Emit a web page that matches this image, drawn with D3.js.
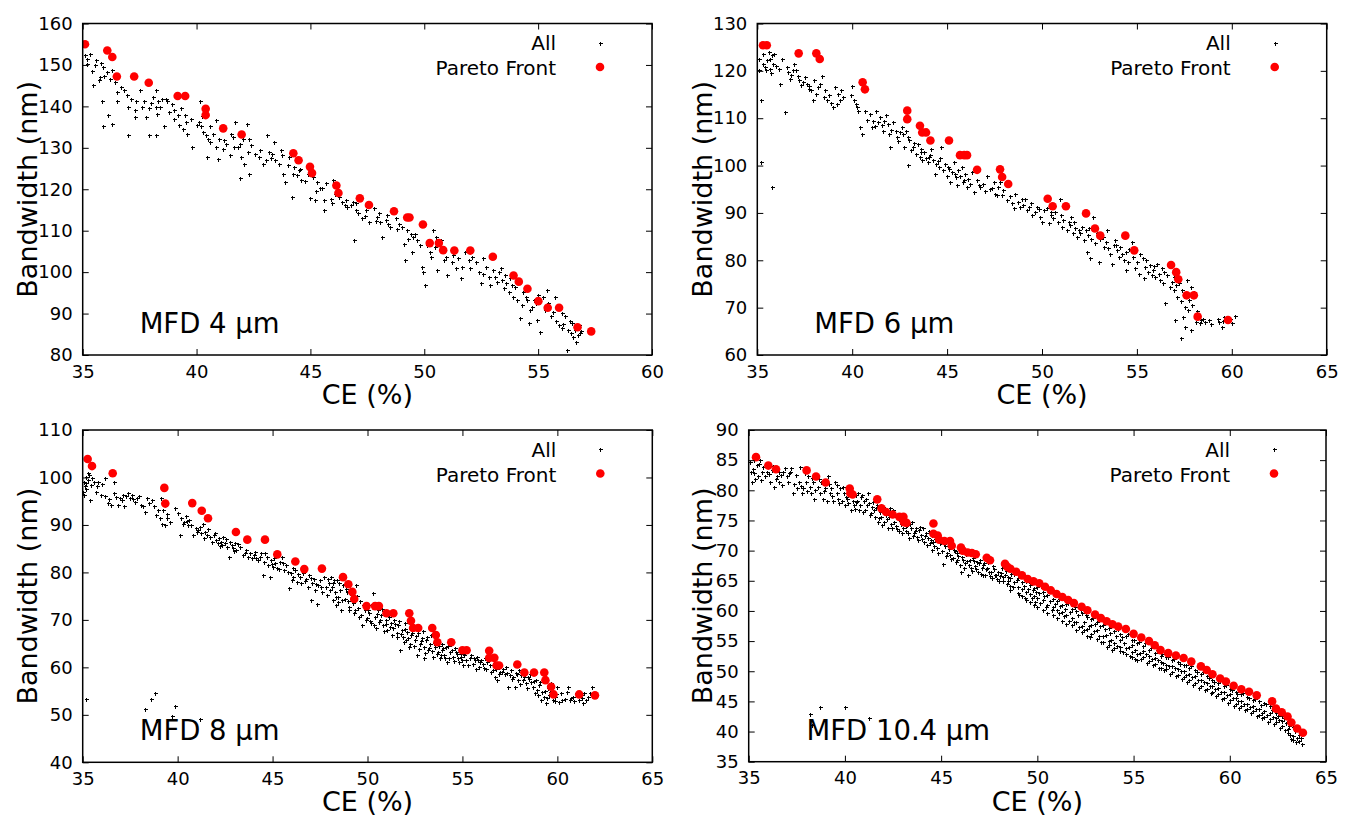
<!DOCTYPE html>
<html>
<head>
<meta charset="utf-8">
<script src="https://cdn.jsdelivr.net/npm/d3@7"></script>
<style>
  body { margin: 0; background: #fff; }
  svg { display: block; font-family: "DejaVu Sans", sans-serif; }
</style>
</head>
<body>
<svg id="chart" width="1345" height="816"></svg>
<script>
// ---- data: [CE (%), Bandwidth (nm)] ----
const all4 = [
  [35.1,152.3],[35.2,151.5],[35.2,150.3],[35.6,151.1],[35.55,149.9],[35.45,145.1],[35.7,146.3],[35.76,147.1],[35.85,141.4],[35.9,135.2],
  [36.1,137.8],[36.3,135.7],[35.9,149.5],[36.05,148.3],[35.95,147.3],[36.3,148.7],[36.4,145.9],[36.5,143.5],[36.5,141.4],[36.8,143.9],
  [36.95,142.7],[37.0,139.9],[37.0,133.1],[37.3,139.1],[37.3,137.4],[37.35,141.4],[37.5,143.9],[37.6,139.9],[37.8,137.4],[37.9,133.1],
  [37.9,139.5],[38.1,142.2],[38.2,139.9],[38.2,143.9],[38.25,138.2],[38.2,133.2],[38.3,141.4],[38.4,139.9],[38.5,141.8],[38.55,135.2],
  [38.65,141.8],[38.7,141.4],[38.9,140.6],[39.0,139.1],[39.0,137.0],[39.2,137.8],[39.25,135.4],[39.4,134.6],[39.5,137.8],[39.55,136.2],
  [39.6,133.4],[39.8,130.2],[40.0,135.4],[40.1,136.2],[40.13,141.4],[40.2,135.2],[40.3,133.9],[40.4,133.1],[40.45,127.8],[40.5,132.2],
  [40.6,135.2],[40.7,133.4],[40.85,136.6],[40.85,130.2],[40.95,127.4],[41.0,132.2],[41.1,134.6],[41.15,129.8],[41.3,131.0],[41.45,128.2],
  [41.6,132.6],[41.65,130.2],[41.7,136.2],[41.8,130.2],[41.9,122.6],[41.95,127.8],[42.05,132.2],[42.1,126.2],[42.2,135.8],[42.25,129.0],
  [42.3,123.8],[42.3,132.2],[42.55,128.6],[42.75,127.8],[42.9,126.2],[43.05,127.0],[43.1,133.0],[43.2,129.0],[43.3,128.6],[43.4,131.4],
  [43.45,127.0],[43.6,126.2],[43.75,128.2],[43.8,123.8],[43.9,121.8],[44.05,127.8],[44.2,118.1],[44.25,123.8],[44.3,125.4],[44.4,123.4],
  [44.55,125.0],[44.6,122.2],[44.9,123.8],[45.1,123.0],[45.3,121.8],[45.4,120.2],[45.5,120.2],[45.6,117.3],[45.97,122.2],[45.9,117.7],
  [45.0,117.9],[45.2,117.4],[45.6,114.9],[45.95,116.6],
  [46.26,118.2],[46.4,117.0],[46.55,117.4],[46.6,115.8],[46.77,116.2],[46.85,117.0],[46.9,107.7],[46.99,115.0],[47.1,114.2],[47.28,113.0],
  [47.43,115.0],[47.57,112.2],[47.8,115.4],[47.94,113.4],[48.0,114.2],[48.05,112.2],[48.15,108.5],[48.3,112.6],[48.35,113.8],[48.5,110.9],
  [48.74,113.0],[48.9,111.7],[49.0,110.9],[49.1,106.9],[49.15,102.9],[49.25,110.1],[49.4,109.3],[49.45,104.9],[49.5,108.5],[49.6,109.3],
  [49.7,107.7],[49.9,101.2],[49.95,100.1],[50.05,96.9],[50.1,106.5],[50.25,104.9],[50.4,110.1],[50.45,106.1],[50.5,108.5],[50.55,100.5],
  [50.7,105.7],[50.75,107.7],[50.95,103.7],[51.0,99.3],[51.2,102.5],[51.25,104.1],[51.4,100.9],[51.6,98.5],[51.66,101.3],[51.8,104.9],
  [51.95,102.9],[52.1,103.7],[52.25,102.5],[52.4,100.1],[52.5,97.3],[52.6,103.3],[52.7,101.3],[52.85,98.9],[52.9,96.9],[53.0,100.5],
  [53.12,98.9],[53.27,100.1],[53.35,100.9],[53.4,98.1],[53.5,96.1],[53.55,99.3],[53.6,97.3],[53.7,95.3],[53.75,98.5],[53.9,94.1],
  [54.0,96.5],[54.05,93.3],[54.2,88.9],[54.3,92.1],[54.45,94.1],[54.5,93.3],[54.58,87.7],[54.65,90.9],[54.8,93.3],[54.9,92.5],
  [54.95,88.5],[55.0,94.5],[55.1,85.6],[55.2,94.1],[55.4,95.7],[55.45,92.5],[55.55,89.3],[55.75,94.1],[55.8,88.1],[55.9,87.3],
  [56.04,90.1],[56.04,86.5],[56.2,89.3],[56.25,81.2],[56.3,86.1],[56.4,88.1],[56.45,85.3],[56.5,87.7],[56.6,86.1],[56.65,83.2],
  [56.75,84.8],[56.8,87.3],[56.85,85.3],
  [35.3,152.6],[35.4,148.6],[35.8,150.5],[36.2,146.6],[36.7,144.6],[37.1,141.9],[37.7,141.4],[38.0,140.9],[38.8,138.6],[39.3,139.6],
  [39.75,136.9],[40.25,137.6],[40.6,131.4],[41.2,131.9],[41.5,133.3],[41.9,130.9],[42.4,130.6],[42.8,129.4],[43.25,127.6],[43.7,129.5],
  [44.0,125.9],[44.5,124.6],[44.75,121.9],[45.25,119.6],[45.7,121.4],[46.1,118.9],[46.5,116.3],[47.0,116.8],[47.4,113.6],[47.9,112.3],
  [48.4,111.6],[48.8,110.4],[49.3,107.9],[49.8,106.6],[50.3,103.6],[50.85,102.9],[51.5,103.4],[52.0,100.9],[52.6,99.6],[53.2,97.6],
  [53.85,96.9],[54.35,95.2],[54.75,91.6],[55.3,90.9],[55.65,90.4],[56.1,87.4],[56.55,84.3],[56.9,85.9]
];
const pareto4 = [
  [35.1,155.0],[36.08,153.5],[36.3,151.9],[36.5,147.2],[37.26,147.2],[37.9,145.7],[39.17,142.5],[39.5,142.5],[40.4,139.4],[40.4,137.9],
  [41.17,134.7],[41.98,133.2],[44.25,128.7],[44.48,127.0],[44.98,125.4],[45.07,123.9],[46.14,120.9],[46.23,119.1],[47.17,117.8],[47.57,116.2],
  [48.67,114.7],[49.25,113.2],[49.35,113.2],[49.94,111.5],[50.24,107.0],[50.64,107.0],[50.83,105.3],[51.32,105.2],[52.02,105.2],[53.01,103.7],
  [53.92,99.2],[54.15,97.7],[54.53,96.0],[55.01,93.0],[55.42,91.4],[55.92,91.4],[56.73,86.7],[57.33,85.7]
];

const all6 = [
  [35.1,122.6],[35.2,100.8],[35.2,113.8],[35.1,120.1],[35.3,123.6],[35.4,120.8],[35.45,120.1],[35.6,123.9],[35.67,122.6],[35.85,121.5],
  [35.76,123.3],[35.65,120.4],[35.9,123.6],[35.8,95.4],[36.3,122.6],[36.2,117.3],[36.45,111.4],[36.55,120.8],[36.6,119.8],[36.7,118.3],
  [36.9,120.1],[36.95,121.5],[37.05,120.1],[37.15,119.0],[37.2,118.0],[37.42,117.6],[37.5,118.7],[37.6,117.3],[37.7,116.9],[37.75,116.2],
  [37.85,115.9],[37.95,113.8],[38.0,118.0],[38.1,115.2],[38.2,116.6],[38.4,119.0],[38.5,114.5],[38.55,115.9],[38.65,113.8],[38.8,114.8],
  [39.0,112.3],[39.1,116.6],[39.25,115.2],[39.35,113.8],[39.4,115.9],[39.5,114.5],[39.95,115.0],[40.0,116.9],[40.1,113.8],[40.2,113.1],
  [40.25,112.3],[40.4,108.1],[40.5,106.7],[40.7,111.6],[40.93,110.9],[41.1,109.5],[41.2,108.4],[41.25,111.6],[41.35,109.1],[41.45,110.3],
  [41.6,107.4],[41.7,109.5],[41.8,110.6],[41.9,108.8],[41.95,106.7],[42.0,103.9],[42.15,109.2],[42.3,107.4],[42.35,106.0],[42.5,107.1],
  [42.6,108.2],[42.69,106.7],[42.75,103.9],[42.85,107.4],[42.95,100.1],[43.0,105.3],[43.1,103.2],[43.2,103.9],[43.35,102.5],[43.45,104.6],
  [43.55,101.8],[43.65,103.6],[43.7,101.1],[43.8,102.9],[43.9,101.5],[44.0,100.8],[44.05,101.8],[44.15,103.6],[44.25,101.1],[44.35,98.3],
  [44.44,100.4],[44.55,99.7],[44.6,101.5],[44.7,103.9],[44.8,99.0],[44.9,100.4],[45.0,97.9],[45.05,99.7],[45.15,96.5],[45.25,98.6],
  [45.35,100.8],[45.45,97.6],[45.5,95.8],[45.6,99.0],[45.7,97.9],[45.8,99.7],[45.85,96.5],[45.95,98.3],[46.05,95.5],[46.1,97.2],
  [46.3,98.6],[46.4,94.4],[46.55,96.9],[46.75,95.5],[46.9,96.2],[47.1,97.9],[47.25,95.1],[47.45,96.5],[47.55,94.1],[47.7,95.5],
  [47.8,96.5],[47.96,94.8],
  [47.88,93.7],[48.15,92.7],[48.4,92.0],[48.6,94.1],[48.5,91.0],[48.75,92.3],[48.85,91.3],[49.0,91.6],[49.1,93.0],[49.2,90.6],
  [49.4,92.0],[49.45,89.5],[49.65,90.2],[49.75,91.3],[49.9,89.2],[50.0,88.1],[50.1,90.6],[50.25,91.0],[50.35,87.8],[50.45,89.5],
  [50.6,88.9],[50.7,90.2],[50.85,88.1],[50.95,93.0],[51.05,87.1],[51.1,88.5],[51.3,86.4],[51.4,88.1],[51.5,87.4],[51.55,89.2],
  [51.65,85.7],[51.75,86.8],[51.85,85.0],[51.95,86.4],[52.0,85.7],[52.1,87.1],[52.2,84.3],[52.3,86.4],[52.35,81.8],[52.4,85.4],
  [52.55,80.4],[52.6,84.6],[52.7,89.2],[52.8,83.6],[52.9,85.7],[53.0,79.7],[53.06,84.6],[53.25,82.9],[53.35,83.9],[53.45,86.4],
  [53.5,82.5],[53.6,81.4],[53.7,79.3],[53.8,83.2],[53.85,84.3],[53.95,82.2],[54.05,80.7],[54.1,82.9],[54.2,81.4],[54.3,80.0],
  [54.4,77.9],[54.45,81.8],[54.55,79.7],[54.75,83.9],[54.82,80.7],[54.9,78.3],[55.0,79.7],[55.1,77.2],[55.15,81.4],[55.35,76.2],
  [55.45,78.6],[55.5,80.0],[55.6,77.6],[55.7,79.0],[55.8,76.9],[55.85,77.9],[55.95,76.5],[56.05,79.3],[56.15,77.2],[56.2,75.8],
  [56.3,78.3],[56.4,75.1],[56.5,70.9],[56.57,76.9],[56.65,79.0],[56.75,74.4],[56.85,75.4],[56.95,76.5],[56.95,73.7],[57.0,67.4],
  [57.0,77.6],[57.1,72.3],[57.2,75.1],[57.3,71.3],[57.3,63.5],[57.4,73.7],[57.45,68.1],[57.55,66.0],[57.55,70.2],[57.65,75.8],
  [57.75,71.6],[57.85,74.4],[57.85,65.3],[57.9,70.6],[58.0,73.3],[58.1,67.0],[58.2,68.1],[58.33,66.7],[58.4,67.4],[58.5,67.7],
  [58.6,67.0],[58.8,67.4],[59.25,67.7],[59.3,67.0],[59.5,66.0],[59.6,68.1],[59.9,67.7],[60.0,66.7],[60.15,68.2],
  [35.3,121.4],[35.5,122.2],[35.7,119.6],[36.0,121.0],[36.15,120.3],[36.8,119.2],[37.3,117.0],[38.3,117.3],[38.9,113.2],[39.2,112.9],
  [40.3,111.6],[40.8,109.7],[41.05,108.1],[41.55,108.6],[42.05,107.6],[42.4,105.1],[42.95,106.1],[43.25,104.8],[43.6,102.9],[44.1,102.2],
  [44.5,101.0],[45.1,99.3],[45.4,98.3],[45.9,97.0],[46.2,96.1],[46.7,96.0],[47.0,94.7],[47.35,95.3],[47.65,93.8],[48.3,93.5],
  [48.95,92.9],[49.3,91.2],[49.85,90.8],[50.5,90.3],[51.0,89.6],[51.7,88.0],[52.5,86.9],[53.2,85.0],[53.9,83.3],[54.6,82.4],
  [55.3,80.4],[55.9,78.8],[56.45,77.6],[57.05,74.8],[57.5,72.4],[57.7,69.4],[58.15,69.2],[58.9,66.6],[59.55,67.1]
];
const pareto6 = [
  [35.3,125.4],[35.5,125.4],[37.18,123.7],[38.11,123.7],[38.29,122.5],[40.55,117.6],[40.67,116.1],[42.9,111.6],[42.9,109.8],[43.57,108.4],
  [43.69,107.0],[43.89,107.0],[44.12,105.3],[45.1,105.3],[45.68,102.2],[45.9,102.2],[46.05,102.2],[46.58,99.1],[47.79,99.2],[47.9,97.6],
  [48.22,96.1],[50.3,93.0],[50.56,91.4],[51.26,91.4],[52.32,89.9],[52.79,86.7],[53.07,85.2],[54.39,85.2],[54.86,82.1],[56.8,79.0],
  [57.07,77.5],[57.18,76.0],[57.62,72.6],[58.0,72.6],[58.2,68.1],[59.8,67.4]
];

const all8 = [
  [35.0,97.0],[35.05,99.1],[35.1,98.1],[35.15,100.2],[35.2,98.8],[35.3,99.5],[35.35,100.6],[35.4,95.3],[35.45,98.4],[35.6,99.1],
  [35.7,97.0],[35.8,99.1],[35.95,96.3],[36.15,99.8],[36.2,96.0],[36.35,94.6],[36.5,94.2],[36.65,99.1],[36.65,96.7],[36.85,94.2],
  [36.95,95.6],[37.1,96.3],[37.2,93.9],[37.3,96.0],[37.4,96.7],[37.5,95.6],[37.6,96.3],[37.75,94.9],[37.85,95.6],[38.05,94.2],
  [38.2,93.9],[38.3,92.8],[38.4,95.6],[38.65,95.3],[38.75,93.9],[38.85,92.1],[38.95,93.2],[39.05,91.4],[39.1,95.6],[39.2,90.3],
  [39.35,90.0],[39.42,91.4],[39.85,93.5],[40.0,92.5],[40.1,87.9],[40.2,91.4],[40.3,90.3],[40.35,90.7],[40.45,91.8],[40.55,90.0],
  [40.6,91.1],[40.8,87.9],[40.95,89.3],[41.05,89.0],[41.18,89.6],[41.25,88.2],[41.35,90.3],[41.45,88.6],[41.55,87.9],[41.7,87.5],
  [41.8,86.5],[41.9,87.9],[42.0,86.8],[42.1,86.1],[42.2,87.2],[42.3,86.5],[42.35,85.8],[42.4,87.5],[42.5,86.1],[42.6,85.4],
  [42.7,83.3],[42.75,86.5],[42.85,85.8],[42.93,85.1],[43.0,86.1],[43.1,84.7],[43.3,85.4],[43.45,83.6],[43.6,84.7],[43.7,83.3],
  [43.8,84.0],[44.0,83.6],[44.1,84.3],[44.15,83.0],[44.35,83.3],[44.4,84.0],[44.5,79.4],[44.55,82.2],[44.69,83.3],[44.75,81.6],
  [44.85,79.1],[44.9,82.6],[45.0,81.2],[45.1,83.0],[45.15,81.9],[45.35,80.8],[45.4,82.2],[45.5,83.3],[45.6,80.5],[45.7,81.6],
  [45.85,76.7],[45.95,79.8],[46.0,78.4],[46.1,79.1],[46.2,80.5],[46.3,78.0],[46.44,79.1],[46.5,77.7],[46.6,79.8],[46.75,78.7],
  [46.85,77.0],[46.9,79.4],[47.0,74.1],[47.1,77.7],[47.2,78.7],[47.25,76.3],[47.35,73.4],[47.4,77.3],[47.5,78.4],[47.6,75.9],
  [47.7,79.1],[47.8,77.0],[47.85,75.2],[47.95,77.7],[48.05,76.3],[48.2,74.1],[48.25,78.4],[48.35,74.8],[48.45,73.7],
  [35.17,53.3],[38.3,51.2],[38.6,53.3],[38.8,54.5],[39.86,51.9],[39.7,49.7],[41.2,49.1],[38.9,49.0],
  [48.1,79.1],[48.2,77.7],[48.3,75.9],[48.4,78.4],[48.45,74.8],[48.55,76.3],[48.6,72.1],[48.7,77.3],[48.8,74.5],[48.9,75.9],
  [49.0,72.8],[49.05,72.1],[49.1,75.6],[49.25,73.5],[49.3,71.4],[49.4,77.3],[49.5,72.5],[49.6,73.9],[49.65,71.0],[49.7,68.9],
  [49.85,72.1],[49.95,70.3],[50.0,73.2],[50.1,71.4],[50.2,69.3],[50.3,75.6],[50.4,70.7],[50.45,68.2],[50.55,72.1],[50.65,70.0],
  [50.7,71.0],[50.8,68.9],[50.9,71.7],[51.0,70.0],[51.05,67.9],[51.15,70.7],[51.25,69.3],[51.35,68.2],[51.4,70.0],[51.53,67.2],
  [51.6,68.9],[51.7,63.6],[51.8,67.9],[51.85,66.5],[51.95,69.3],[52.05,65.8],[52.1,67.5],[52.25,65.0],[52.3,66.8],[52.4,68.2],
  [52.5,65.8],[52.6,62.6],[52.65,67.2],[52.75,65.0],[52.85,66.1],[52.95,61.9],[53.0,64.3],[53.1,65.8],[53.2,63.6],[53.29,65.0],
  [53.35,66.8],[53.45,62.2],[53.55,64.3],[53.6,65.8],[53.7,63.3],[53.8,61.9],[53.9,65.0],[53.95,63.6],[54.05,62.6],[54.15,64.3],
  [54.2,61.2],[54.35,63.3],[54.4,65.0],[54.5,62.2],[54.6,64.0],[54.7,62.9],[54.75,61.9],[54.85,63.6],[54.95,62.2],[55.04,60.5],
  [55.1,62.6],[55.2,61.5],[55.4,61.9],[55.55,60.8],[55.65,61.5],[55.75,62.2],[55.85,60.1],[55.9,61.2],[56.1,60.8],[56.2,61.9],
  [56.25,59.7],[56.45,60.5],[56.6,59.4],[56.7,58.0],[56.8,57.3],[56.9,60.1],[57.0,59.0],[57.15,59.7],[57.25,58.7],[57.3,60.1],
  [57.4,55.9],[57.5,58.3],[57.55,59.4],[57.65,58.0],[57.75,55.9],[57.85,58.7],[57.95,57.3],[58.0,59.4],[58.1,58.3],[58.2,57.3],
  [58.3,58.7],[58.35,56.6],[58.45,58.0],[58.55,58.7],[58.6,56.9],[58.7,55.9],[58.8,54.5],[58.9,57.3],[58.95,55.2],[59.05,56.2],
  [59.15,53.1],[59.2,54.8],[59.3,53.8],[59.4,52.4],[59.5,55.6],[59.55,54.1],[59.65,56.6],[59.75,53.1],[59.8,54.8],[59.9,53.8],
  [60.0,55.9],[60.1,52.8],[60.2,54.5],[60.4,53.4],[60.55,55.9],[60.65,53.1],[60.8,53.8],[61.0,54.5],[61.15,53.1],[61.25,54.1],
  [61.35,52.4],[61.4,54.5],[61.6,53.8],[61.8,55.9],
  [48.15,76.9],[48.35,73.1],[48.5,77.8],[48.65,74.2],[48.85,76.6],[48.95,73.9],[49.15,74.3],[49.35,72.1],[49.45,75.1],[49.55,70.7],
  [49.75,73.1],[49.9,69.9],[50.05,72.0],[50.15,69.7],[50.25,73.4],[50.35,68.9],[50.5,71.2],[50.6,69.6],[50.75,72.3],[50.85,67.6],
  [50.95,69.1],[51.1,71.6],[51.2,68.6],[51.3,66.9],[51.45,69.1],[51.55,66.3],[51.65,69.8],[51.75,67.1],[51.9,65.4],[52.0,68.1],
  [52.15,66.1],[52.2,64.3],[52.35,67.3],[52.45,64.6],[52.55,66.6],[52.7,63.9],[52.8,65.5],[52.9,67.6],[53.05,63.1],[53.15,66.4],
  [53.25,64.1],[53.4,63.4],[53.5,65.1],[53.65,62.9],[53.75,64.6],[53.85,62.6],[54.0,64.1],[54.1,61.9],[54.25,64.6],[54.3,62.0],
  [54.45,63.6],[54.55,61.4],[54.65,63.2],[54.8,61.1],[54.9,62.9],[55.0,61.6],[55.15,63.1],[55.3,60.6],[55.45,62.6],[55.6,61.9],
  [55.7,59.6],[55.8,61.6],[56.0,61.5],[56.15,59.9],[56.3,61.2],[56.5,59.1],[56.65,60.9],[56.75,59.6],[56.95,58.6],[57.1,59.1],
  [57.35,58.9],[57.6,57.6],[57.8,58.9],[58.05,56.4],[58.25,57.9],[58.4,55.6],[58.5,57.6],[58.75,57.1],[59.0,54.1],[59.1,56.9],
  [59.35,55.1],[59.45,53.6],[59.6,54.9],[59.85,52.9],[59.95,54.4],[60.25,53.1],[60.5,54.9],[60.7,53.6],[60.9,52.9],[61.1,54.2],
  [61.3,53.6],[61.5,53.1],[61.7,54.6],
  [35.05,96.4],[35.2,97.6],[35.3,100.9],[35.5,99.8],[35.75,98.2],[36.0,98.6],[36.4,95.4],[36.75,95.9],[37.05,95.2],[37.65,95.4],
  [37.95,96.1],[38.5,94.6],[39.25,93.1],[39.45,92.2],[39.6,90.6],[40.5,90.9],[40.7,89.9],[41.0,88.6],[41.4,87.2],[41.6,89.1],
  [41.95,88.3],[42.25,85.6],[42.55,87.0],[42.95,84.6],[43.2,85.9],[43.55,84.1],[43.9,83.1],[44.25,82.6],[44.6,84.0],[44.95,81.8],
  [45.25,80.9],[45.55,81.9],[45.8,80.1],[46.05,80.9],[46.35,79.6],[46.7,78.1],[47.05,78.9],[47.3,77.6],[47.55,76.9],[47.9,78.6]
];
const pareto8 = [
  [35.26,103.9],[35.49,102.4],[36.58,100.9],[39.3,97.8],[39.35,94.5],[40.77,94.6],[41.27,93.0],[41.6,91.4],[43.07,88.5],[43.67,86.9],
  [44.6,86.9],[45.25,83.8],[46.2,82.3],[46.67,80.7],[47.6,80.8],[48.71,79.0],[48.99,77.5],[49.2,75.9],[49.3,74.4],[49.95,72.9],
  [50.4,72.9],[50.6,72.9],[51.0,71.4],[51.36,71.4],[52.2,71.4],[52.29,69.8],[52.4,68.3],[52.67,68.3],[53.41,68.3],[53.6,66.8],
  [53.68,65.3],[54.41,65.3],[55.0,63.6],[55.22,63.6],[56.41,63.5],[56.41,62.0],[56.68,62.0],[56.8,60.4],[56.93,60.4],[57.89,60.6],
  [58.26,58.9],[58.77,58.9],[59.31,58.9],[59.37,57.3],[59.67,55.9],[59.8,54.3],[61.15,54.3],[61.98,54.1]
];

const all104 = [
  [35.07,84.7],[35.1,83.1],[35.15,81.4],[35.25,85.0],[35.3,82.8],[35.4,85.3],[35.45,84.2],[35.5,82.3],[35.6,85.0],[35.7,83.1],
  [35.75,83.9],[35.85,82.3],[35.95,83.1],[36.11,81.4],[36.2,83.4],[36.3,80.6],[36.45,82.3],[36.55,83.1],[36.6,81.4],[36.8,83.1],
  [36.9,83.7],[37.0,82.3],[37.05,81.4],[37.15,83.1],[37.2,83.7],[37.3,79.5],[37.5,80.3],[37.6,81.4],[37.65,83.9],[37.75,79.5],
  [37.84,80.3],[38.0,81.4],[38.1,82.3],[38.2,80.6],[38.25,79.5],[38.35,81.4],[38.4,78.6],[38.5,82.3],[38.6,80.6],[38.7,79.5],
  [38.75,81.4],[38.85,78.6],[38.95,80.3],[39.05,78.3],[39.1,82.3],[39.2,79.5],[39.3,80.3],[39.4,78.3],[39.5,81.4],[39.57,79.5],
  [39.65,78.6],[39.75,80.3],[39.85,78.3],[39.95,79.5],[40.0,77.5],[40.1,78.6],[40.2,79.5],[40.3,76.7],[40.4,78.3],[40.45,77.5],
  [40.55,79.2],[40.65,78.3],[40.75,76.7],[40.8,77.5],[40.9,79.2],[41.0,78.3],[41.05,76.7],[41.15,77.5],[41.2,79.5],[41.3,75.9],
  [41.4,77.2],[41.5,76.7],[41.55,75.6],[41.65,77.5],[41.7,74.7],[41.8,76.4],[41.9,75.6],[42.0,77.2],[42.05,74.7],[42.15,75.9],
  [42.25,73.7],[42.3,75.6],[42.4,74.4],[42.5,76.7],[42.55,74.7],[42.65,74.0],[42.75,75.6],[42.8,73.2],[42.9,74.4],[43.04,73.7],
  [43.1,75.3],[43.2,73.2],[43.25,74.2],[43.35,72.1],[43.45,73.7],[43.5,74.7],[43.6,72.9],[43.7,73.7],[43.8,71.8],[43.85,73.4],
  [43.95,72.6],[44.05,73.7],[44.1,71.5],[44.2,72.9],[44.3,72.1],[44.4,71.2],[44.5,72.6],[44.6,71.5],[44.65,70.7],[44.77,72.1],
  [44.85,69.6],[44.95,71.2],[45.0,71.5],[45.1,67.7],[45.2,70.7],[45.3,69.6],[45.35,71.4],[45.45,69.3],[45.55,70.7],[45.6,68.8],
  [45.7,69.9],[45.8,68.5],[45.9,69.1],[45.95,70.4],[46.05,66.5],[46.15,68.5],[46.25,67.9],[46.3,69.4],[46.4,66.0],[46.5,68.5],
  [46.55,67.2],[46.65,68.8],[46.75,67.5],[46.85,68.1],[46.9,66.5],[47.0,68.5],[47.1,67.2],[47.2,66.0],[47.25,67.9],[47.35,66.9],
  [47.45,68.1],[47.55,65.8],[47.6,66.5],[47.7,67.5],[47.8,66.0],[47.9,65.3],[47.95,66.5],[48.05,65.8],[48.15,67.2],[48.23,65.0],
  [48.3,66.0],[48.4,64.4],[48.5,65.7],
  [38.19,42.9],[38.73,44.0],[40.0,44.0],[41.25,42.2],[38.3,41.1],
  [35.2,83.6],[35.35,81.9],[35.55,84.4],[35.65,81.7],[35.9,84.1],[36.05,82.7],[36.25,84.0],[36.4,81.9],[36.7,82.6],[36.75,80.9],
  [37.1,82.8],[37.35,81.1],[37.45,82.6],[37.7,80.7],[37.9,82.9],[38.05,79.9],[38.3,82.0],[38.45,80.1],[38.65,81.9],[38.9,79.9],
  [39.15,81.0],[39.35,79.1],[39.6,80.9],[39.7,77.9],[39.9,80.6],[40.05,78.9],[40.15,77.9],[40.35,79.9],[40.5,76.9],[40.6,78.0],
  [40.7,79.6],[40.85,78.9],[40.95,76.4],[41.1,78.6],[41.25,77.9],[41.35,76.2],[41.45,78.1],[41.6,77.0],[41.75,75.4],[41.85,77.6],
  [41.95,74.2],[42.1,76.6],[42.2,75.2],[42.35,77.1],[42.45,73.8],[42.6,75.9],[42.7,73.6],[42.85,74.9],[42.95,72.9],[43.0,74.9],
  [43.15,74.0],[43.3,73.0],[43.4,74.4],[43.55,72.4],[43.65,73.2],[43.75,72.2],[43.9,73.9],[44.0,71.9],[44.15,72.4],[44.25,70.9],
  [44.35,73.2],[44.45,71.8],[44.55,70.1],[44.7,71.9],[44.8,70.4],[44.9,72.0],[45.05,69.9],[45.15,71.1],[45.25,69.1],[45.4,70.2],
  [45.5,68.6],[45.65,70.1],[45.75,68.1],[45.85,69.6],[46.0,67.6],[46.1,69.0],[46.2,67.2],[46.35,68.2],[46.45,67.6],[46.6,66.6],
  [46.7,68.2],[46.8,66.9],[46.95,67.9],[47.05,66.2],[47.15,67.6],[47.3,65.9],[47.4,67.1],[47.5,66.4],[47.65,65.4],[47.75,67.0],
  [47.85,65.9],[48.0,64.9],[48.1,66.3],[48.2,65.6],[48.35,66.6],[48.45,64.9],
  [48.6,64.2],[48.6,65.5],[48.6,63.4],[48.8,66.2],[48.8,64.8],[49.0,63.0],[49.0,65.5],[49.0,64.0],[49.2,62.5],[49.2,64.8],
  [49.2,63.6],[49.4,65.0],[49.4,61.8],[49.4,63.2],[49.6,62.8],[49.6,64.3],[49.6,61.5],[49.8,63.8],[49.8,61.0],[49.8,62.4],
  [50.0,64.0],[50.0,60.6],[50.0,62.2],[50.3,63.2],[50.3,60.2],[50.3,61.8],[50.5,62.6],[50.5,61.0],[50.5,59.6],[50.8,62.0],
  [50.8,59.4],[50.8,60.6],[51.0,61.6],[51.0,58.8],[51.0,60.2],[51.3,60.9],[51.3,58.4],[51.3,59.8],[51.5,61.2],[51.5,57.9],
  [51.5,59.4],[51.8,60.4],[51.8,57.6],[51.8,58.9],[52.0,60.0],[52.0,58.2],[52.0,56.9],[52.3,59.6],[52.3,57.5],[52.3,56.5],
  [52.6,59.0],[52.6,57.0],[52.6,55.8],[52.8,58.6],[52.8,56.2],[52.8,57.6],[53.1,58.1],[53.1,55.4],[53.1,56.8],[53.4,57.6],
  [53.4,55.8],[53.4,54.8],[53.7,57.2],[53.7,55.0],[53.7,54.4],[54.0,56.6],[54.0,54.6],[54.0,53.8],[54.3,56.2],[54.3,54.1],
  [54.3,53.4],[54.3,55.2],[54.6,55.8],[54.6,53.8],[54.6,52.8],[54.9,55.2],[54.9,53.2],[54.9,52.4],[54.9,54.3],[55.2,54.6],
  [55.2,52.8],[55.2,51.8],[55.5,54.2],[55.5,52.4],[55.5,53.3],[55.8,53.6],[55.8,51.7],[55.8,52.6],[56.1,53.0],[56.1,51.2],
  [56.1,52.2],[56.4,52.6],[56.4,50.6],[56.4,51.6],[56.7,52.3],[56.7,50.4],[56.7,51.1],[57.0,51.9],[57.0,49.8],[57.0,50.8],
  [57.3,51.5],[57.3,49.4],[57.3,50.4],[57.6,51.0],[57.6,49.0],[57.6,50.0],[57.9,50.6],[57.9,48.5],[57.9,49.6],[58.2,50.2],
  [58.2,48.0],[58.2,49.2],[58.5,49.6],[58.5,47.6],[58.5,48.5],[58.8,49.2],[58.8,47.0],[58.8,48.1],[59.1,48.6],[59.1,46.6],
  [59.1,47.5],[59.4,48.0],[59.4,46.2],[59.4,47.2],[59.7,47.6],[59.7,45.6],[59.7,46.6],[60.0,47.0],[60.0,45.2],[60.0,46.2],
  [60.3,46.6],[60.3,44.6],[60.3,45.6],[60.6,46.2],[60.6,44.2],[60.6,45.0],[60.9,45.8],[60.9,43.8],[60.9,44.6],[61.2,45.2],
  [61.2,43.4],[61.2,44.2],[61.5,45.0],[61.5,42.8],[61.5,43.8],[61.8,44.8],[61.8,42.4],[61.8,43.4],[62.1,44.2],[62.1,42.0],
  [62.1,43.0],[62.4,43.0],[62.4,41.5],[62.4,42.2],[62.7,42.6],[62.7,41.0],[62.7,41.8],[63.0,41.8],[63.0,40.4],[63.0,39.8],
  [63.3,40.8],[63.3,39.2],[63.3,38.6],[63.6,39.4],[63.6,38.4],
  [48.65,66.1],[48.75,63.9],[48.95,65.1],[49.05,62.6],[49.15,66.0],[49.3,64.2],[49.35,62.2],[49.5,63.6],[49.55,64.9],[49.7,62.1],
  [49.75,63.5],[49.9,61.4],[49.95,63.1],[50.1,62.9],[50.15,61.3],[50.2,64.2],[50.35,62.4],[50.45,60.6],[50.6,63.3],[50.65,61.6],
  [50.75,60.1],[50.9,61.1],[50.95,62.8],[51.1,59.6],[51.15,61.9],[51.2,60.8],[51.4,59.1],[51.45,60.4],[51.6,61.3],[51.65,58.4],
  [51.7,59.9],[51.9,58.1],[51.95,60.6],[52.1,59.4],[52.15,57.4],[52.25,60.2],[52.4,58.2],[52.45,56.9],[52.55,59.4],[52.7,57.5],
  [52.75,55.6],[52.9,58.9],[52.95,56.6],[53.0,57.9],[53.2,55.9],[53.25,57.5],[53.3,54.9],[53.5,57.0],[53.55,56.0],[53.6,54.1],
  [53.8,56.4],[53.85,55.2],[53.9,53.6],[54.1,55.9],[54.15,54.2],[54.2,57.0],[54.4,55.6],[54.45,53.2],[54.5,54.6],[54.7,56.2],
  [54.75,54.0],[54.8,52.6],[55.0,55.2],[55.05,53.6],[55.1,52.1],[55.3,54.9],[55.35,53.1],[55.4,52.0],[55.6,54.6],[55.65,52.8],
  [55.7,51.4],[55.9,53.9],[55.95,52.1],[56.0,51.0],[56.2,53.6],[56.25,51.8],[56.3,50.5],[56.5,52.9],[56.55,51.3],[56.6,50.2],
  [56.8,52.4],[56.85,50.9],[56.9,49.6],[57.1,52.1],[57.15,50.6],[57.2,49.2],[57.4,51.2],[57.45,50.0],[57.5,48.7],[57.7,51.0],
  [57.75,49.4],[57.8,48.2],[58.0,50.8],[58.05,49.0],[58.1,47.8],[58.3,49.9],[58.35,48.6],[58.4,47.2],[58.6,49.9],[58.65,48.2],
  [58.7,46.9],[58.9,48.9],[58.95,47.6],[59.0,46.4],[59.2,48.2],[59.25,47.0],[59.3,45.9],[59.5,48.4],[59.55,46.6],[59.6,45.4],
  [59.8,47.8],[59.85,46.0],[59.9,44.8],[60.1,46.9],[60.15,45.6],[60.2,44.2],[60.4,46.2],[60.45,45.0],[60.5,43.9],[60.7,46.4],
  [60.75,44.6],[60.8,43.6],[61.0,45.6],[61.05,44.0],[61.1,43.0],[61.3,45.4],[61.35,43.7],[61.4,42.6],[61.6,44.4],[61.65,43.1],
  [61.7,42.2],[61.9,44.6],[61.95,42.8],[62.0,41.6],[62.2,43.6],[62.25,42.4],[62.3,41.2],[62.5,42.6],[62.55,41.9],[62.6,40.6],
  [62.8,42.2],[62.85,40.2],[62.9,41.4],[63.1,40.9],[63.15,39.4],[63.2,38.8],[63.4,40.1],[63.45,38.2],[63.5,39.0],[63.7,38.9],
  [63.75,38.0]
];
const pareto104 = [
  [35.38,85.5],[36.02,84.1],[36.42,83.5],[38.01,83.3],[38.5,82.3],[39.0,81.3],[40.25,80.3],[40.28,79.5],[40.4,79.3],[41.68,78.5],
  [41.9,77.0],[42.14,76.4],[42.48,76.0],[42.83,75.6],[43.04,75.6],[43.07,74.7],[43.2,74.6],[44.6,74.5],[44.6,72.8],[44.82,72.5],
  [44.9,71.8],[45.17,71.6],[45.46,71.6],[45.55,70.8],[46.03,70.5],[46.12,70.0],[46.38,69.7],[46.6,69.6],[46.8,69.4],[47.37,68.8],
  [47.54,68.4],[48.32,67.8],[48.44,67.3],[48.6,67.0],[48.9,66.5],[49.2,65.9],[49.5,65.3],[49.8,64.9],[50.1,64.6],[50.4,64.0],
  [50.7,63.4],[51.0,62.8],[51.3,62.3],[51.6,61.8],[51.9,61.3],[52.3,60.7],[52.6,60.1],[53.0,59.4],[53.3,58.8],[53.6,58.3],
  [53.9,57.8],[54.2,57.4],[54.6,57.0],[55.0,56.2],[55.4,55.6],[55.8,55.0],[56.1,54.3],[56.4,53.5],[56.8,53.0],[57.2,52.6],
  [57.6,52.2],[58.0,51.6],[58.5,50.8],[58.8,50.2],[59.1,49.5],[59.5,48.8],[59.8,48.3],[60.2,47.6],[60.6,47.0],[61.0,46.6],
  [61.4,46.0],[62.2,45.0],[62.4,43.8],[62.7,43.2],[63.0,42.5],[63.2,41.5],[63.5,40.5],[63.8,39.8]
];

// axis ticks
const ticksX60 = [35, 40, 45, 50, 55, 60];
const ticksX65 = [35, 40, 45, 50, 55, 60, 65];
const ticksY4 = [80, 90, 100, 110, 120, 130, 140, 150, 160];
const ticksY6 = [60, 70, 80, 90, 100, 110, 120, 130];
const ticksY8 = [40, 50, 60, 70, 80, 90, 100, 110];
const ticksY104 = [35, 40, 45, 50, 55, 60, 65, 70, 75, 80, 85, 90];

const labels = ["MFD 4 µm", "MFD 6 µm", "MFD 8 µm", "MFD 10.4 µm"];
const legendNames = ["All", "Pareto Front"];

const panels = [
  {all: all4, pareto: pareto4, label: labels[0], xd: [35, 60], yd: [80, 160], xt: ticksX60, yt: ticksY4,
   box: {l: 82.7, r: 652, t: 23.5, b: 355}, ylabX: 37},
  {all: all6, pareto: pareto6, label: labels[1], xd: [35, 65], yd: [60, 130], xt: ticksX65, yt: ticksY6,
   box: {l: 757.3, r: 1326.7, t: 23.5, b: 355}, ylabX: 712},
  {all: all8, pareto: pareto8, label: labels[2], xd: [35, 65], yd: [40, 110], xt: ticksX65, yt: ticksY8,
   box: {l: 82.7, r: 652.3, t: 430, b: 762.3}, ylabX: 37},
  {all: all104, pareto: pareto104, label: labels[3], xd: [35, 65], yd: [35, 90], xt: ticksX65, yt: ticksY104,
   box: {l: 748.7, r: 1326, t: 430, b: 761.7}, ylabX: 712}
];

const svg = d3.select("#chart");
const plus = "M-2,0H2M0,-2V2";
// snap small markers to the pixel grid so they render crisp and black
const snap = v => Math.round(v) + 0.5;

panels.forEach((p, i) => {
  const b = p.box;
  const x = d3.scaleLinear().domain(p.xd).range([b.l, b.r]);
  const y = d3.scaleLinear().domain(p.yd).range([b.b, b.t]);
  const g = svg.append("g").attr("class", "panel");

  g.append("clipPath").attr("id", "clip" + i)
    .append("rect").attr("x", b.l).attr("y", b.t).attr("width", b.r - b.l).attr("height", b.b - b.t);

  // MFD label, placed at 10% of the x range
  g.append("text")
    .attr("x", x(p.xd[0] + 0.1 * (p.xd[1] - p.xd[0])))
    .attr("y", b.b - 22)
    .attr("font-size", 27.5)
    .attr("fill", "#000")
    .text(p.label);

  const pts = g.append("g").attr("clip-path", `url(#clip${i})`);
  pts.selectAll(".all").data(p.all).join("path")
    .attr("class", "all")
    .attr("d", plus)
    .attr("stroke", "#000")
    .attr("stroke-width", 1)
    .attr("shape-rendering", "crispEdges")
    .attr("transform", d => `translate(${snap(x(d[0]))},${snap(y(d[1]))})`);
  pts.selectAll(".par").data(p.pareto).join("circle")
    .attr("class", "par")
    .attr("cx", d => x(d[0]))
    .attr("cy", d => y(d[1]))
    .attr("r", 4.3)
    .attr("fill", "#ff0000");

  // axes, ticks pointing inwards, mirrored on top and right
  const style = sel => {
    sel.select(".domain").remove();
    sel.selectAll("line").attr("stroke", "#000").attr("stroke-width", 1);
    sel.selectAll("text").attr("fill", "#000");
    sel.attr("font-size", 18).attr("font-family", "DejaVu Sans, sans-serif");
  };
  g.append("g").attr("transform", `translate(0,${b.b})`)
    .call(d3.axisBottom(x).tickValues(p.xt).tickSizeInner(-6).tickSizeOuter(0).tickPadding(10)).call(style);
  g.append("g").attr("transform", `translate(0,${b.t})`)
    .call(d3.axisTop(x).tickValues(p.xt).tickSizeInner(-6).tickSizeOuter(0).tickFormat("")).call(style);
  g.append("g").attr("transform", `translate(${b.l},0)`)
    .call(d3.axisLeft(y).tickValues(p.yt).tickSizeInner(-6).tickSizeOuter(0).tickPadding(10)).call(style);
  g.append("g").attr("transform", `translate(${b.r},0)`)
    .call(d3.axisRight(y).tickValues(p.yt).tickSizeInner(-6).tickSizeOuter(0).tickFormat("")).call(style);

  g.append("rect")
    .attr("x", b.l).attr("y", b.t)
    .attr("width", b.r - b.l).attr("height", b.b - b.t)
    .attr("fill", "none").attr("stroke", "#000").attr("stroke-width", 1.5);

  // axis titles
  g.append("text")
    .attr("x", (b.l + b.r) / 2).attr("y", b.b + 49)
    .attr("text-anchor", "middle").attr("font-size", 27)
    .text("CE (%)");
  g.append("text")
    .attr("transform", `translate(${p.ylabX},${(b.t + b.b) / 2}) rotate(-90)`)
    .attr("text-anchor", "middle").attr("font-size", 27)
    .text("Bandwidth (nm)");

  // legend
  const lg = g.append("g").attr("font-size", 20);
  lg.append("text").attr("x", b.r - 96).attr("y", b.t + 26.5).attr("text-anchor", "end").text(legendNames[0]);
  lg.append("text").attr("x", b.r - 96).attr("y", b.t + 51.5).attr("text-anchor", "end").text(legendNames[1]);
  lg.append("path").attr("d", plus).attr("stroke", "#000").attr("stroke-width", 1)
    .attr("shape-rendering", "crispEdges")
    .attr("transform", `translate(${snap(b.r - 52)},${snap(b.t + 19)})`);
  lg.append("circle").attr("cx", b.r - 52).attr("cy", b.t + 43.5).attr("r", 4.3).attr("fill", "#ff0000");
});
</script>
</body>
</html>
